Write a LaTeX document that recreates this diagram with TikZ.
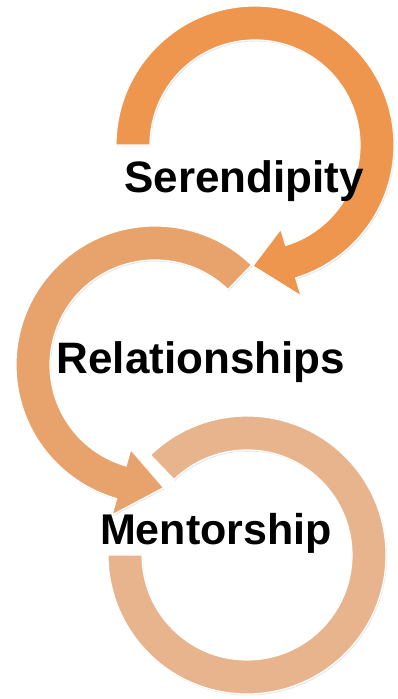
\documentclass[tikz,border=0pt]{standalone}
\usepackage{fontspec}
\setmainfont{Liberation Sans}
\usetikzlibrary{shadows}

\definecolor{ringA}{RGB}{239,150,78}
\definecolor{ringB}{RGB}{232,162,108}
\definecolor{ringC}{RGB}{231,180,142}

\begin{document}
\begin{tikzpicture}[x=1pt, y=1pt,
 ring/.style={draw=white, line width=1.2pt, drop shadow={opacity=0.18, shadow xshift=1pt, shadow yshift=-1.5pt}},
 lbl/.style={anchor=base, inner sep=0pt, font=\bfseries\fontsize{44}{52}\selectfont}]
\useasboundingbox (0,0) rectangle (398,699);
% top ring, head at the bottom
\path[ring, fill=ringA, shift={(255,554)}] (180:139) arc[start angle=180, end angle=-73, radius=139]
 -- (-73:158) -- (-91:121) -- (-73:88) -- (-73:105) arc[start angle=-73, end angle=180, radius=105] -- cycle;
% middle ring, turns the other way
\path[ring, fill=ringB, shift={(155,334)}] (46:139) arc[start angle=46, end angle=254, radius=139]
 -- (254:156) -- (274:123) -- (254:88) -- (254:105) arc[start angle=254, end angle=46, radius=105] -- cycle;
% bottom ring, no head
\path[ring, fill=ringC, shift={(247,144)}] (134:139) arc[start angle=134, end angle=-180, radius=139]
 -- (180:105) arc[start angle=-180, end angle=134, radius=105] -- cycle;
\node[lbl] (seren) at (244,506) {Serendipity};
\node[lbl] (relat) at (201,325) {Relationships};
\node[lbl, font=\bfseries\fontsize{43}{50}\selectfont] (mentor) at (216,154) {Mentorship};
\end{tikzpicture}
\end{document}
